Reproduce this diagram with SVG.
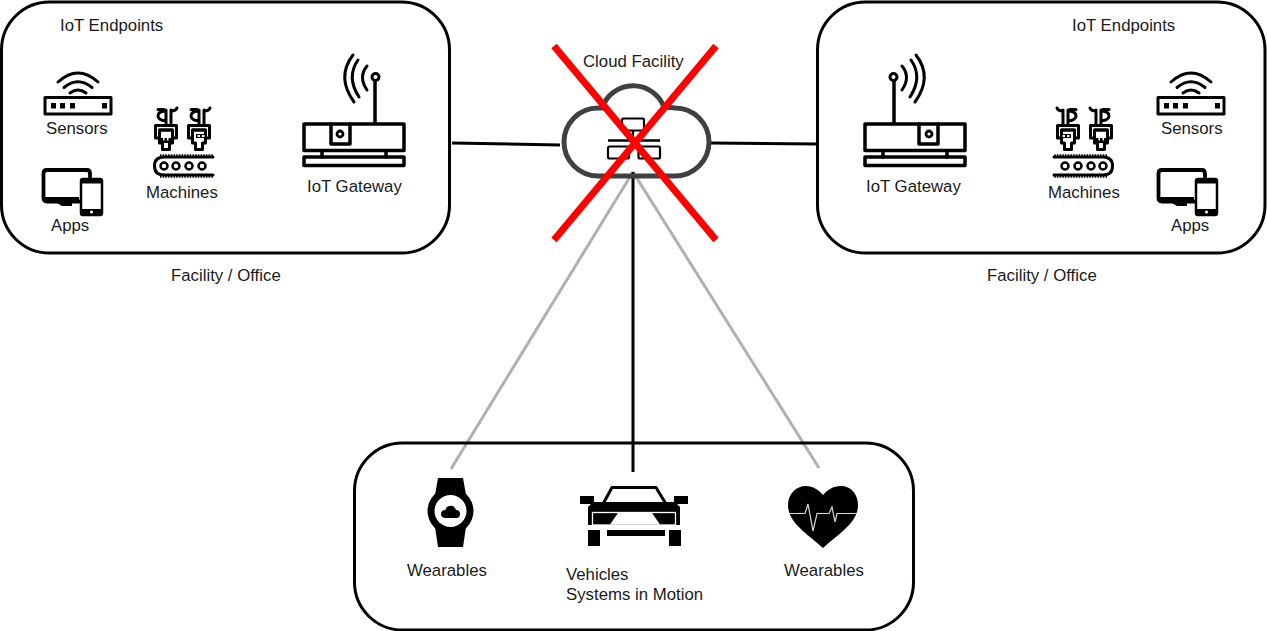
<svg xmlns="http://www.w3.org/2000/svg" width="1267" height="631" viewBox="0 0 1267 631">
<style>
.box{fill:none;stroke:#000;stroke-width:3}
.t{font-family:"Liberation Sans",Arial,sans-serif;font-size:16.800px;fill:#1a1a1a}
.ln{fill:none;stroke:#000;stroke-linecap:round;stroke-linejoin:round}
.k{fill:#000}
.w{fill:#fff}
.link{stroke:#000;stroke-width:3;fill:none}
.soft{stroke:#b0b0b0;stroke-width:3;fill:none}
.cross{stroke:#f00;stroke-width:7;fill:none}
</style>
<defs>
<g id="sensor">
<rect class="ln" x="45" y="97.500" width="66" height="16.500" stroke-width="3"/>
<rect class="k" x="51" y="103" width="5" height="5.500"/><rect class="k" x="60" y="103" width="5" height="5.500"/><rect class="k" x="70" y="103" width="5" height="5.500"/><rect class="k" x="102" y="103" width="5" height="5.500"/>
<path class="ln" stroke-width="3" d="M58 82Q78 64 98 82M64 87.500Q78 76 92 87.500M70 93Q78 87 86 93"/>
</g>
<g id="apps">
<path class="ln" stroke-width="3.800" d="M78 170H47Q43.500 170 43.500 173.500V198Q43.500 201.500 47 201.500H79M78 170H87Q90 170 90 174V177"/>
<path class="k" d="M44 197H79V203H44ZM57 203H72V206H62Z"/>
<rect class="ln" x="81" y="179" width="21" height="36" rx="2" stroke-width="2.500"/>
<rect class="k" x="81" y="179" width="21" height="4.500"/><rect class="k" x="81" y="209" width="21" height="6"/>
<circle class="w" cx="91.500" cy="212" r="1.500"/>
</g>
<g id="robot">
<path class="ln" stroke-width="3" d="M166 110V124M171 110V124M166 111Q158 111 158 116Q158 120 166 121M158 109.500H164M171 111Q176 111 177 108"/>
<path class="ln" stroke-width="3" d="M155.500 138V125.500H176.500V138H172.500V130H159.500V138Z"/>
<path class="ln" stroke-width="3" d="M159.500 130H172.500V143H169.500V149.500H162.500V143H159.500Z"/>
</g>
<g id="machines">
<use href="#robot"/>
<use href="#robot" x="33"/>
<path class="k" d="M161 138H171V143H161Z"/>
<rect class="w" x="163" y="137" width="1.500" height="3.500"/><rect class="w" x="167" y="137" width="1.500" height="3.500"/>
<rect class="k" x="196" y="134" width="10" height="4"/>
<rect class="w" x="197.500" y="135" width="2.500" height="2"/><rect class="w" x="202" y="135" width="2.500" height="2"/>
<path class="ln" stroke-width="3" d="M213 157H164Q154.500 157 154.500 166Q154.500 175 164 175H213"/>
<path d="M160 156H213M160 176H213" fill="none" stroke="#000" stroke-width="3.500" stroke-dasharray="1.500 1.200"/>
<g class="ln" stroke-width="2.500"><circle cx="164" cy="166" r="3.500"/><circle cx="176" cy="166" r="3.500"/><circle cx="189" cy="166" r="3.500"/><circle cx="202" cy="166" r="3.500"/></g>
</g>
<g id="gateway">
<rect class="ln" x="304" y="124" width="100" height="26.500" stroke-width="3.500"/>
<rect class="ln" x="304" y="157" width="100" height="8.500" stroke-width="3.500"/>
<path class="ln" stroke-width="3.500" d="M322 151V157M386 151V157M375 123V81"/>
<path class="ln" stroke-width="3.500" d="M331 124V144H350V124"/>
<circle class="ln" cx="340" cy="134" r="3" stroke-width="2.800"/>
<circle class="ln" cx="375.500" cy="77" r="3.500" stroke-width="3"/>
<path class="ln" stroke-width="3" d="M367 66Q358 77 367 90M358 60Q346 77 359 97M353 55Q336 77 354 102"/>
</g>
</defs>

<g id="links">
<path class="link" d="M452 143L560 145M710 143L817 144"/>
<path class="soft" d="M633 172L451 469M633 172L819 468"/>
<path class="link" d="M633 172V472"/>
</g>

<g id="facility-left">
<rect class="box" x="1.500" y="2" width="448" height="251" rx="48"/>
<text class="t" x="60" y="31">IoT Endpoints</text>
<use href="#sensor"/>
<text class="t" x="46" y="134">Sensors</text>
<use href="#apps"/>
<text class="t" x="51" y="231">Apps</text>
<use href="#machines"/>
<text class="t" x="146" y="198">Machines</text>
<use href="#gateway"/>
<text class="t" x="307" y="192">IoT Gateway</text>
</g>
<text id="facility-left-label" class="t" x="171" y="281">Facility / Office</text>

<g id="facility-right">
<rect class="box" x="817.500" y="2" width="447.500" height="251" rx="48"/>
<text class="t" x="1072" y="31">IoT Endpoints</text>
<use href="#sensor" x="1113"/>
<text class="t" x="1161" y="134">Sensors</text>
<use href="#apps" x="1115"/>
<text class="t" x="1171" y="231">Apps</text>
<use href="#machines" transform="matrix(-1 0 0 1 1267 0)"/>
<text class="t" x="1048" y="198">Machines</text>
<use href="#gateway" transform="matrix(-1 0 0 1 1269 0)"/>
<text class="t" x="866" y="192">IoT Gateway</text>
</g>
<text id="facility-right-label" class="t" x="987" y="281">Facility / Office</text>

<g id="cloud">
<path fill="none" stroke="#404040" stroke-width="5" d="M602 108A33 33 0 0 1 664 107L675 108A34 34 0 0 1 675 176H598A34 34 0 0 1 598 108Z"/>
<g class="ln" stroke-width="2.200">
<rect x="622" y="118.500" width="22" height="12" rx="1.500"/>
<rect x="608" y="146.500" width="21" height="12" rx="1.500"/>
<rect x="638.500" y="146.500" width="21.500" height="12" rx="1.500"/>
<path d="M633 131V141"/>
</g>
<path d="M608 140.500H660" stroke="#000" stroke-width="2.500"/>
<text class="t" x="583" y="67">Cloud Facility</text>
<path class="cross" d="M554 46L716 240M716 46L554 240"/>
</g>

<g id="mobile">
<rect class="box" x="354.500" y="443" width="559" height="187" rx="48"/>
<g id="watch">
<path class="k" d="M438 478H463L466 495H435ZM435 527H466L463 547H438Z"/>
<circle class="k" cx="450.500" cy="511" r="23"/><circle class="w" cx="450.500" cy="511" r="16"/>
<path class="k" d="M446 518H456Q460 518 460 514Q460 510 456 510Q454 505 450 506Q446 506 445.500 510Q441 510 441 514Q441 518 446 518Z"/>
</g>
<text class="t" x="407" y="576">Wearables</text>
<g id="car">
<path class="k" d="M580 496H594V504H580ZM674 496H688V504H674ZM592 502H677V505H592Z"/>
<path class="ln" stroke-width="3" d="M603 504L612 487.500H656L666 504"/>
<path class="k" d="M592 503H676L680 507V525H588V507Z"/>
<rect fill="none" stroke="#fff" stroke-width="1.300" x="592.500" y="512.500" width="83" height="12.500"/>
<path class="w" d="M618 513H652L660 524.500H610Z"/>
<path class="k" d="M588 530H600V546H588ZM669 530H681V546H669ZM607 530H665V536H607Z"/>
</g>
<text class="t" x="566" y="580">Vehicles</text>
<text class="t" x="566" y="600">Systems in Motion</text>
<g id="heart">
<path class="k" d="M823 548C805 532 788 522 788 505C788 494 796 486 806 486C813 486 819 490 823 495C827 490 833 486 841 486C851 486 858 494 858 505C858 522 841 532 823 548Z"/>
<path fill="none" stroke="#d8d8d8" stroke-width="1.200" d="M789 513.500H805L808 504L813 531L817 513.500H829L832 507L835 522L837 513.500H857"/>
</g>
<text class="t" x="784" y="576">Wearables</text>
</g>
</svg>
